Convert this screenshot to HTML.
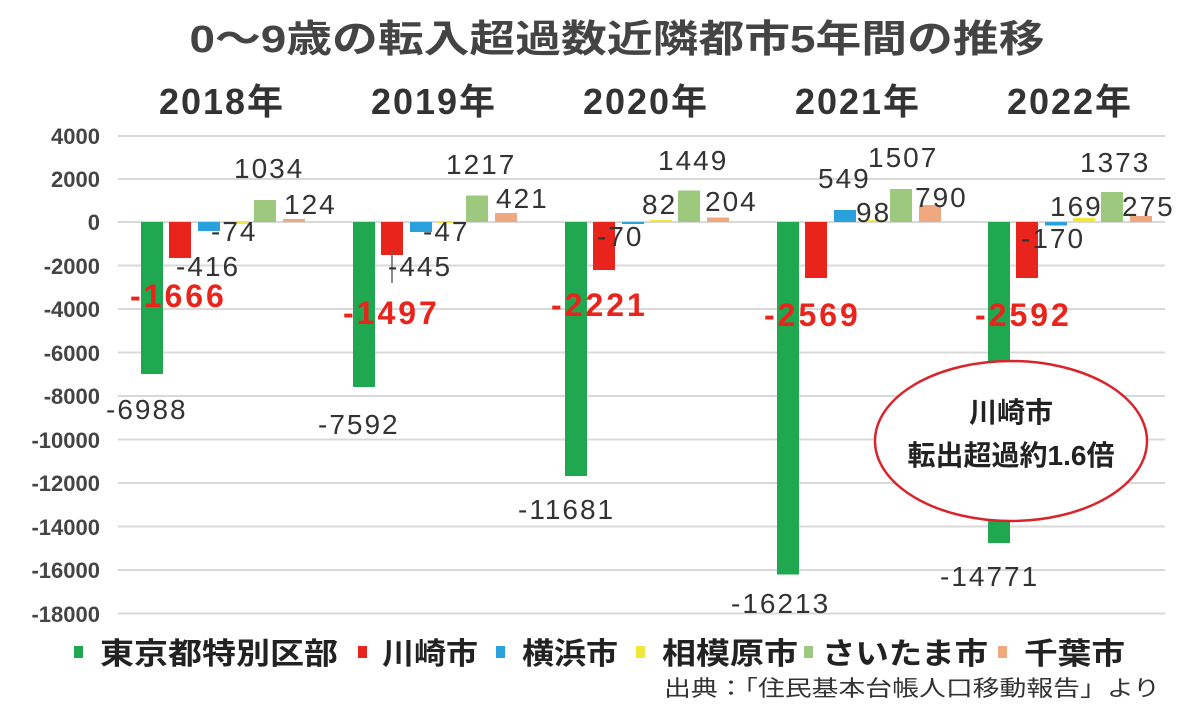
<!DOCTYPE html>
<html><head><meta charset="utf-8"><style>body{margin:0;background:#fff}svg{display:block}</style></head><body>
<svg width="1200" height="717" xmlns="http://www.w3.org/2000/svg" font-family="'Liberation Sans','Noto Sans CJK JP',sans-serif">
<text x="617" y="52" text-anchor="middle" font-size="38" font-weight="bold" fill="#444" textLength="855" lengthAdjust="spacingAndGlyphs">0～9歳の転入超過数近隣都市5年間の推移</text>
<g font-size="36" font-weight="bold" fill="#333" text-anchor="middle" letter-spacing="2">
<text x="222" y="114">2018年</text><text x="434" y="114">2019年</text><text x="646" y="114">2020年</text><text x="858" y="114">2021年</text><text x="1070" y="114">2022年</text>
</g>
<g stroke="#d9d9d9" stroke-width="2">
<line x1="118" x2="1165" y1="136" y2="136"/><line x1="118" x2="1165" y1="179" y2="179"/><line x1="118" x2="1165" y1="222" y2="222"/><line x1="118" x2="1165" y1="265.5" y2="265.5"/><line x1="118" x2="1165" y1="309" y2="309"/><line x1="118" x2="1165" y1="352.5" y2="352.5"/><line x1="118" x2="1165" y1="396" y2="396"/><line x1="118" x2="1165" y1="439.5" y2="439.5"/><line x1="118" x2="1165" y1="483" y2="483"/><line x1="118" x2="1165" y1="526.5" y2="526.5"/><line x1="118" x2="1165" y1="570" y2="570"/><line x1="118" x2="1165" y1="613.5" y2="613.5"/>
</g>
<g font-size="22" font-weight="bold" fill="#444" text-anchor="end">
<text x="100" y="144">4000</text><text x="100" y="187">2000</text><text x="100" y="230">0</text><text x="100" y="274">-2000</text><text x="100" y="317">-4000</text><text x="100" y="361">-6000</text><text x="100" y="404">-8000</text><text x="100" y="448">-10000</text><text x="100" y="491">-12000</text><text x="100" y="535">-14000</text><text x="100" y="578">-16000</text><text x="100" y="622">-18000</text>
</g>
<g>
<rect x="141" y="222" width="22" height="152" fill="#1fa84f"/><rect x="169" y="222" width="22" height="36" fill="#e8241c"/><rect x="198" y="222" width="22" height="9" fill="#2aa0dc"/><rect x="226" y="222" width="22" height="2" fill="#f0e63c"/><rect x="254" y="200" width="22" height="22" fill="#9cc97e"/><rect x="283" y="219" width="22" height="3" fill="#f0a880"/>
<rect x="353" y="222" width="22" height="165" fill="#1fa84f"/><rect x="381" y="222" width="22" height="33" fill="#e8241c"/><rect x="410" y="222" width="22" height="10" fill="#2aa0dc"/><rect x="438" y="222" width="22" height="1" fill="#f0e63c"/><rect x="466" y="195.5" width="22" height="26.5" fill="#9cc97e"/><rect x="495" y="213" width="22" height="9" fill="#f0a880"/>
<rect x="565" y="222" width="22" height="254" fill="#1fa84f"/><rect x="593" y="222" width="22" height="48" fill="#e8241c"/><rect x="622" y="222" width="22" height="2" fill="#2aa0dc"/><rect x="650" y="220" width="22" height="2" fill="#f0e63c"/><rect x="678" y="190.5" width="22" height="31.5" fill="#9cc97e"/><rect x="707" y="217.5" width="22" height="4.5" fill="#f0a880"/>
<rect x="777" y="222" width="22" height="352.5" fill="#1fa84f"/><rect x="805" y="222" width="22" height="56" fill="#e8241c"/><rect x="834" y="210" width="22" height="12" fill="#2aa0dc"/><rect x="862" y="220" width="22" height="2" fill="#f0e63c"/><rect x="890" y="189" width="22" height="33" fill="#9cc97e"/><rect x="919" y="205" width="22" height="17" fill="#f0a880"/>
<rect x="988" y="222" width="22" height="321" fill="#1fa84f"/><rect x="1016" y="222" width="22" height="56" fill="#e8241c"/><rect x="1045" y="222" width="22" height="3.5" fill="#2aa0dc"/><rect x="1073" y="218" width="22" height="4" fill="#f0e63c"/><rect x="1101" y="192" width="22" height="30" fill="#9cc97e"/><rect x="1130" y="216" width="22" height="6" fill="#f0a880"/>
</g>
<line x1="392" y1="252" x2="392" y2="283" stroke="#666" stroke-width="1.5"/>
<g font-size="28" fill="#333" letter-spacing="2">
<text x="234" y="178">1034</text><text x="284" y="214">124</text><text x="211" y="241">-74</text><text x="176" y="276">-416</text><text x="106" y="419">-6988</text>
<text x="446" y="174">1217</text><text x="496" y="208">421</text><text x="423" y="241">-47</text><text x="388" y="276">-445</text><text x="318" y="434">-7592</text>
<text x="658" y="170">1449</text><text x="705" y="211">204</text><text x="642" y="214">82</text><text x="597" y="246">-70</text><text x="518" y="519">-11681</text>
<text x="868" y="167">1507</text><text x="818" y="188">549</text><text x="856" y="222">98</text><text x="915" y="207">790</text><text x="731" y="613">-16213</text>
<text x="1080" y="172">1373</text><text x="1050" y="216">169</text><text x="1122" y="216">275</text><text x="1021" y="248">-170</text><text x="940" y="586">-14771</text>
</g>
<g font-size="32" font-weight="bold" fill="#e8241c" letter-spacing="3">
<text x="130" y="307">-1666</text><text x="343" y="324">-1497</text><text x="551" y="316">-2221</text><text x="764" y="326">-2569</text><text x="975" y="326">-2592</text>
</g>
<ellipse cx="1011" cy="441" rx="136" ry="80" fill="#fff" stroke="#d8242a" stroke-width="2.5"/>
<g font-size="28" font-weight="bold" fill="#222" text-anchor="middle">
<text x="1011" y="422">川崎市</text><text x="1011" y="465">転出超過約1.6倍</text>
</g>
<g>
<rect x="74" y="646" width="9" height="12" fill="#1fa84f"/><rect x="358" y="646" width="9" height="12" fill="#e8241c"/><rect x="496" y="646" width="9" height="12" fill="#2aa0dc"/><rect x="636" y="646" width="9" height="12" fill="#f0e63c"/><rect x="804" y="646" width="9" height="12" fill="#9cc97e"/><rect x="998" y="646" width="9" height="12" fill="#f0a880"/>
</g>
<g font-size="30" font-weight="bold" fill="#222">
<text x="100" y="664" textLength="238" lengthAdjust="spacingAndGlyphs">東京都特別区部</text>
<text x="382" y="664" textLength="96" lengthAdjust="spacingAndGlyphs">川崎市</text>
<text x="522" y="664" textLength="96" lengthAdjust="spacingAndGlyphs">横浜市</text>
<text x="662" y="664" textLength="136" lengthAdjust="spacingAndGlyphs">相模原市</text>
<text x="822" y="664" textLength="166" lengthAdjust="spacingAndGlyphs">さいたま市</text>
<text x="1024" y="664" textLength="101" lengthAdjust="spacingAndGlyphs">千葉市</text>
</g>
<text x="664" y="696" font-size="22" fill="#333" textLength="496" lengthAdjust="spacingAndGlyphs">出典：「住民基本台帳人口移動報告」より</text>
</svg>
</body></html>
